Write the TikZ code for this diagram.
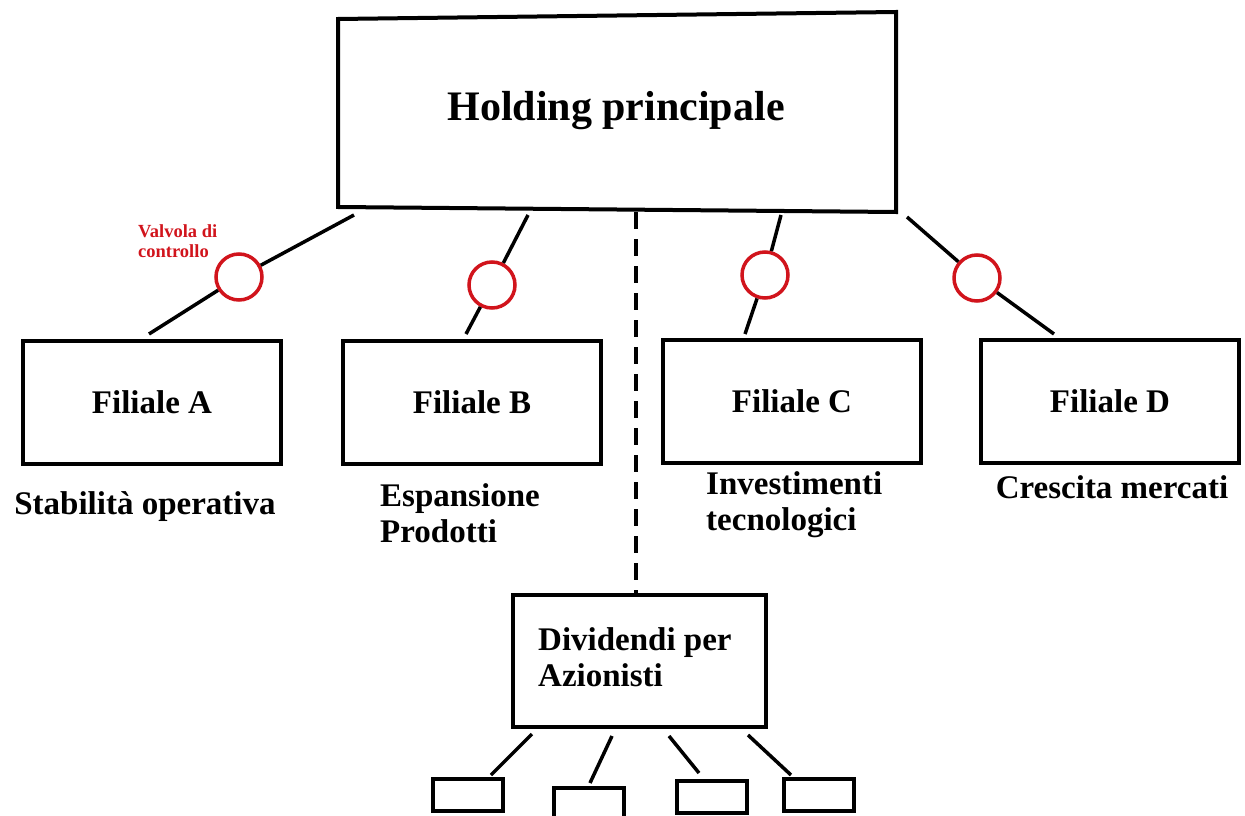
\documentclass[tikz,border=0pt]{standalone}
\usepackage{fontspec}
\setmainfont{Liberation Serif}
\usepackage{tikz}
\usetikzlibrary{positioning,calc}
\newcommand{\LINEPT}{3.5pt}
\newcommand{\BOXPT}{4pt}
\newcommand{\VALVER}{23pt}
\definecolor{myred}{rgb}{0.82,0.08,0.11}

\begin{document}
\begin{tikzpicture}[x=1pt,y=-1pt,
	filbox/.style={draw,line width=\BOXPT,minimum width=258pt,minimum height=123pt,inner sep=0pt,font=\fontsize{33}{36}\bfseries\selectfont},
	valve/.style={draw=myred,circle,line width=\LINEPT,minimum size=2*\VALVER,inner sep=0pt},
	tinybox/.style={draw,line width=\BOXPT,minimum width=70pt,minimum height=32pt,inner sep=0pt},
	lbl/.style={font=\fontsize{33}{36}\bfseries\selectfont,inner sep=0pt,align=left}]

		\useasboundingbox (0,0) rectangle (1245,816);
		\clip (0,0) rectangle (1245,816);

		%% holding
		\draw[line width=\BOXPT] (338,19) -- (896,12) -- (896,212) -- (338,207) -- cycle;
		\node[anchor=base,inner sep=0pt,font=\fontsize{42}{48}\bfseries\selectfont] (holding) at (616,120) {Holding principale};

		%% filiali
		\node[filbox] (filA) at (152,402) {Filiale A};
		\node[filbox] (filB) at (472,402) {Filiale B};
		\node[filbox] (filC) at (792,401) {Filiale C};
		\node[filbox] (filD) at (1110,401) {Filiale D};

		%% valvole
		\node[valve] (vA) at (239,277) {};
		\node[valve] (vB) at (492,285) {};
		\node[valve] (vC) at (765,275) {};
		\node[valve] (vD) at (977,278) {};
		\node[anchor=base west,inner sep=0pt,align=left,text=myred,font=\fontsize{18.5}{20}\bfseries\selectfont] (vlabel) at (138,257) {Valvola di\\controllo};

		\coordinate (hA) at (354,215);
		\coordinate (hB) at (528,215);
		\coordinate (hC) at (781,215);
		\coordinate (hD) at (907,217);
		\coordinate (fA) at (149,334);
		\coordinate (fB) at (466,334);
		\coordinate (fC) at (745,334);
		\coordinate (fD) at (1054,334);

		\foreach \k in {A,B,C,D}{
			\draw[-,line width=\LINEPT] (h\k) -- (v\k);
			\draw[-,line width=\LINEPT] (v\k) -- (f\k);
		}

		%% testi sotto le filiali
		\node[lbl,anchor=base] (tA) at (145,514) {Stabilità operativa};
		\node[lbl,anchor=base west] (tB) at (380,542) {Espansione\\Prodotti};
		\node[lbl,anchor=base west] (tC) at (706,530) {Investimenti\\tecnologici};
		\node[lbl,anchor=base] (tD) at (1112,498) {Crescita mercati};

		%% dividendi
		\node[draw,line width=\BOXPT,minimum width=253pt,minimum height=132pt,inner sep=0pt] (divbox) at (639,661) {};
		\node[lbl,anchor=base west] (divtxt) at (538,686) {Dividendi per\\Azionisti};
		\coordinate (hdash) at (636,212);
		\draw[-,line width=\LINEPT,dash pattern=on 17pt off 10pt] (hdash) -- (hdash |- divbox.north);

		%% azionisti
		\node[tinybox] (s1) at (468,795) {};
		\node[tinybox] (s2) at (589,804) {};
		\node[tinybox] (s3) at (712,797) {};
		\node[tinybox] (s4) at (819,795) {};

		\coordinate (d1) at (532,734);
		\coordinate (d2) at (612,736);
		\coordinate (d3) at (669,736);
		\coordinate (d4) at (748,735);
		\coordinate (e1) at (491,775);
		\coordinate (e2) at (590,783);
		\coordinate (e3) at (699,773);
		\coordinate (e4) at (791,775);
		\foreach \k in {1,2,3,4}
			\draw[-,line width=\LINEPT] (d\k) -- (e\k);

	\end{tikzpicture}
\end{document}
